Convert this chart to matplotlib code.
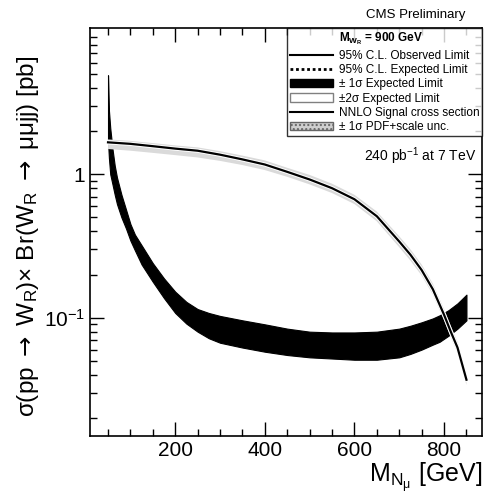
import matplotlib
matplotlib.use("Agg")
import matplotlib.pyplot as plt
import matplotlib.ticker as ticker
import matplotlib.patheffects as pe
from matplotlib.lines import Line2D
from matplotlib.patches import Patch

plt.rcParams['font.family'] = ['Liberation Sans', 'DejaVu Sans']
plt.rcParams['mathtext.fontset'] = 'custom'
plt.rcParams['mathtext.rm'] = 'Liberation Sans'
plt.rcParams['mathtext.it'] = 'Liberation Sans:italic'
plt.rcParams['mathtext.sf'] = 'DejaVu Sans'
plt.rcParams['mathtext.default'] = 'regular'

# expected limit +-1 sigma band (pb) vs M_N (GeV)
band_x = [50, 52, 55, 60, 65, 70, 80, 90, 100, 110, 125, 150, 175, 200, 225, 250, 275, 300, 350, 400,
          450, 500, 550, 600, 650, 700, 725, 750, 775, 790, 810, 830, 850]
band_hi = [4.9, 2.8, 2.1, 1.5, 1.15, 0.95, 0.72, 0.57, 0.45, 0.38, 0.32, 0.24, 0.188, 0.152, 0.129,
           0.115, 0.108, 0.103, 0.096, 0.090, 0.084, 0.080, 0.079, 0.079, 0.080, 0.084, 0.088, 0.093,
           0.099, 0.104, 0.113, 0.126, 0.145]
band_lo = [1.7, 1.3, 1.0, 0.85, 0.72, 0.62, 0.50, 0.42, 0.345, 0.295, 0.235, 0.178, 0.137, 0.108, 0.091,
           0.080, 0.072, 0.067, 0.062, 0.058, 0.055, 0.053, 0.052, 0.051, 0.051, 0.053, 0.056, 0.060,
           0.065, 0.068, 0.075, 0.084, 0.096]

# NNLO signal cross section and PDF+scale band
sig_x = [50, 100, 150, 200, 250, 300, 350, 400, 450, 500, 550, 600, 650, 700, 725, 750, 775, 800, 815, 830, 850]
sig = [1.67, 1.63, 1.57, 1.51, 1.46, 1.37, 1.27, 1.17, 1.04, 0.92, 0.80, 0.67, 0.51, 0.34, 0.275, 0.215,
       0.158, 0.105, 0.080, 0.062, 0.037]
sig_hi = [1.75, 1.71, 1.65, 1.59, 1.54, 1.45, 1.35, 1.25, 1.11, 0.99, 0.86, 0.72, 0.55, 0.37, 0.30, 0.235,
          0.173, 0.115, 0.088, 0.068, 0.041]
sig_lo = [1.50, 1.46, 1.41, 1.36, 1.31, 1.24, 1.16, 1.07, 0.96, 0.85, 0.74, 0.62, 0.47, 0.31, 0.25, 0.197,
          0.145, 0.096, 0.073, 0.057, 0.034]

fig = plt.figure(figsize=(4.87, 4.96), dpi=100)
ax = fig.add_axes([0.185, 0.121, 0.805, 0.823])

ax.fill_between(band_x, band_lo, band_hi, facecolor='black', edgecolor='black', lw=0.8)
ax.fill_between(sig_x, sig_lo, sig_hi, facecolor='#dadada', edgecolor='none')
ax.plot(sig_x, sig, color='black', lw=1.6,
        path_effects=[pe.Stroke(linewidth=3.0, foreground='white'), pe.Normal()])

ax.set_yscale('log')
ax.set_xlim(10, 885)
ax.set_ylim(0.015, 10.5)

ax.xaxis.set_major_locator(ticker.MultipleLocator(200))
ax.xaxis.set_minor_locator(ticker.MultipleLocator(50))
ax.set_yticks([0.1, 1])
ax.set_yticklabels(['$10^{-1}$', '1'])
ax.yaxis.set_minor_locator(ticker.LogLocator(base=10, subs=range(2, 10), numticks=20))
ax.yaxis.set_minor_formatter(ticker.NullFormatter())
ax.tick_params(which='both', direction='in', top=True, right=True, labelsize=15, width=1)
ax.tick_params(which='major', length=10)
ax.tick_params(which='minor', length=5)
for s in ax.spines.values():
    s.set_linewidth(1.2)

arrow = r'$\mathsf{\rightarrow}$'
ax.set_xlabel(r'M$_{N_\mu}$ [GeV]', fontsize=18, loc='right', labelpad=0)
ax.set_ylabel('σ(pp ' + arrow + ' W$_R$)× Br(W$_R$ ' + arrow + ' μμjj) [pb]', fontsize=17.5)
ax.yaxis.set_label_coords(-0.125, 0.49)

fig.text(465 / 487, 1 - 15 / 496, 'CMS Preliminary', fontsize=9.5, ha='right', va='center')
ax.text(0.985, 0.685, '240 pb$^{-1}$ at 7 TeV', transform=ax.transAxes, fontsize=10, ha='right', va='center')

handles = [
    Line2D([], [], color='none'),
    Line2D([], [], color='black', lw=1.5),
    Line2D([], [], color='black', lw=2, ls=(0, (1, 1))),
    Patch(facecolor='black', edgecolor='black'),
    Patch(facecolor='white', edgecolor='0.5'),
    Line2D([], [], color='black', lw=1.5),
    Patch(facecolor='#cfcfcf', edgecolor='0.4', hatch='....'),
]
labels = [
    'M$_{W_R}$ = 900 GeV',
    '95% C.L. Observed Limit',
    '95% C.L. Expected Limit',
    '± 1σ Expected Limit',
    '±2σ Expected Limit',
    'NNLO Signal cross section',
    '± 1σ PDF+scale unc.',
]
leg = ax.legend(handles, labels, loc='upper right', fontsize=8.5, frameon=True, fancybox=False,
                edgecolor='black', borderaxespad=0, handlelength=3.6, handletextpad=0.5,
                labelspacing=0.2, borderpad=0.25)
leg.get_frame().set_linewidth(1.0)
leg.get_texts()[0].set_fontweight('bold')

fig.savefig('out.png', dpi=100)
